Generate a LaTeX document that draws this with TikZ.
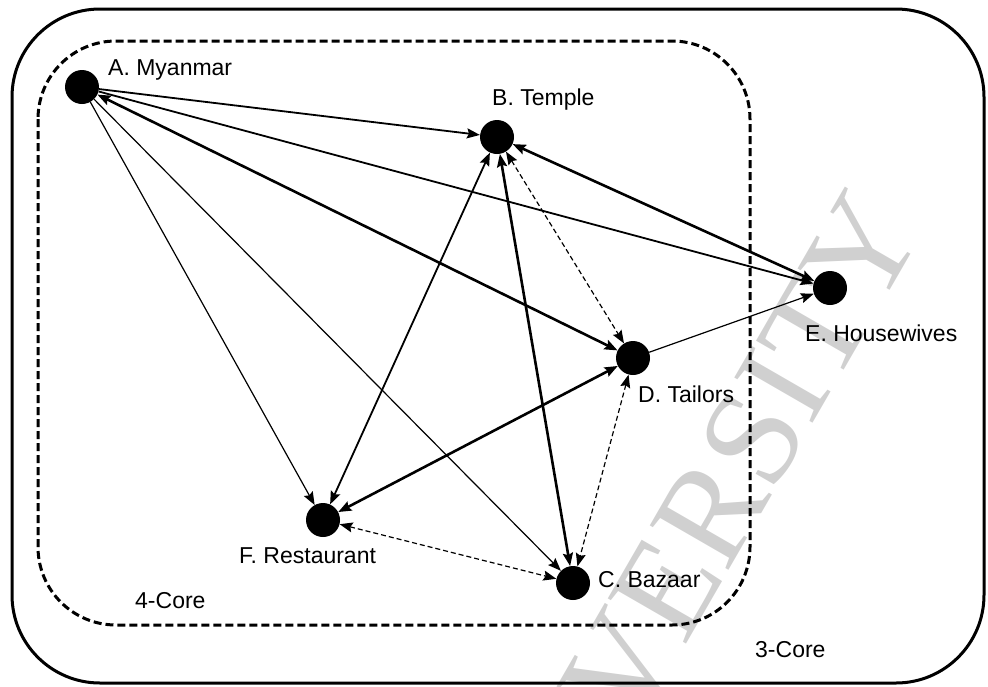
\documentclass[tikz,border=0pt]{standalone}
\usepackage{fontspec}
\setmainfont{Liberation Sans}
\newfontfamily\wmfont{Liberation Serif}
\usetikzlibrary{arrows.meta}
\definecolor{wmgray}{RGB}{208,208,208}
\begin{document}
\begin{tikzpicture}[x=1pt,y=-1pt,
  dot/.style={circle,fill=black,minimum size=34pt,inner sep=0pt},
  lbl/.style={anchor=base west,inner sep=0pt,font=\fontsize{23}{27}\selectfont},
  >={Stealth[length=13pt,width=10pt,inset=2pt]},
  thk/.style={line width=2.6pt},
  med/.style={line width=1.8pt},
  thn/.style={line width=1.2pt},
  dsh/.style={line width=1.2pt,dash pattern=on 5pt off 3pt},
  corebox/.style={line width=3pt,rounded corners=88pt},
  ]
\useasboundingbox (0,0) rectangle (988,686);
% watermark
\begin{scope}
\clip (0,0) rectangle (988,686);
\node[text=wmgray,rotate=60,inner sep=0pt,font=\wmfont\fontsize{138}{138}\selectfont] (wm) at (680,565) {UNIVERSITY};
\end{scope}
% core boxes
\draw[corebox] (12,9) rectangle (984,683);
\draw[corebox,dash pattern=on 8pt off 4pt,rounded corners=78pt] (38,41) rectangle (750,625);
% nodes
\node[dot] (A) at (82,87) {};
\node[dot] (B) at (497,137) {};
\node[dot] (D) at (633,358) {};
\node[dot] (E) at (830,288) {};
\node[dot] (F) at (323,520) {};
\node[dot] (C) at (573,583) {};
% labels
\node[lbl] (lA) at (108,75) {A. Myanmar};
\node[lbl] (lB) at (492,105) {B. Temple};
\node[lbl] (lD) at (638,402) {D. Tailors};
\node[lbl] (lE) at (805,341) {E. Housewives};
\node[lbl] (lF) at (239,563) {F. Restaurant};
\node[lbl] (lC) at (598,587) {C. Bazaar};
\node[lbl] (k4) at (135,608) {4-Core};
\node[lbl] (k3) at (755,657) {3-Core};
% edges
\draw[med,->] (A) -- (B);
\draw[thk,<->] (A) -- (D);
\draw[med,->] (A) -- (E);
\draw[thn,->] (A) -- (F);
\draw[thn,->] (A) -- (C);
\draw[thk,<->] (B) -- (E);
\draw[med,<->] (B) -- (F);
\draw[thk,<->] (B) -- (C);
\draw[dsh,<->] (B) -- (D);
\draw[thn,->] (D) -- (E);
\draw[thk,<->] (D) -- (F);
\draw[dsh,<->] (D) -- (C);
\draw[dsh,<->] (F) -- (C);
\end{tikzpicture}
\end{document}
